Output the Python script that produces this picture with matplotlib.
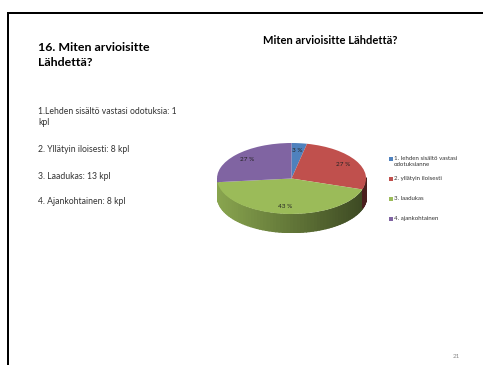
#!/usr/bin/python3

import numpy as np
import matplotlib
matplotlib.use('Agg')
import matplotlib.pyplot as plt
from matplotlib.patches import Rectangle
from matplotlib.colors import to_rgb

W, H = 483, 365
FONT = 'Lato'

categories = ['1. lehden sisältö vastasi\nodotuksianne', '2. yllätyin iloisesti', '3. laadukas', '4. ajankohtainen']
values = [1, 8, 13, 8]
colours = ['#4f81bd', '#c0504d', '#9bbb59', '#8064a2']
body_lines = ['1.Lehden sisältö vastasi odotuksia: 1\nkpl', '2. Yllätyin iloisesti: 8 kpl',
              '3. Laadukas: 13 kpl', '4. Ajankohtainen: 8 kpl']
body_y = [107.5, 145, 172, 197.5]

fig = plt.figure(figsize=(W / 100, H / 100), dpi=100)

# page overlay in pixel coordinates
page = fig.add_axes([0, 0, 1, 1])
page.set_xlim(0, W)
page.set_ylim(H, 0)
page.axis('off')
page.add_patch(Rectangle((7, 12), W - 7, 2, color='black', lw=0))
page.add_patch(Rectangle((7, 12), 2, H - 12, color='black', lw=0))

page.text(38, 47.5, '16. Miten arvioisitte', fontsize=8.9, fontweight='bold', family=FONT, va='center')
page.text(38, 63, 'Lähdettä?', fontsize=8.9, fontweight='bold', family=FONT, va='center')
page.text(330, 40, 'Miten arvioisitte Lähdettä?', fontsize=8, fontweight='bold', family=FONT,
          ha='center', va='center')
for txt, y in zip(body_lines, body_y):
    page.text(38, y, txt, fontsize=6.2, family=FONT, va='top', color='#333333', linespacing=1.15)
page.text(456, 356, '21', fontsize=4.5, family=FONT, color='#888888', ha='center', va='center')

# legend
for i, (cat, col) in enumerate(zip(categories, colours)):
    y = 158.5 + i * 20
    page.add_patch(Rectangle((389, y - 2), 4, 4, color=col, lw=0))
    page.text(394, y - 2.6, cat, fontsize=4.4, family=FONT, va='top', color='#333333', linespacing=1.35)

# pie axes: top face 217..366 x 143..214, extruded down to 232
rx, ry = 74.5, 35.5
depth = 18 / ry
ax = fig.add_axes([217 / W, 1 - 232 / H, 149 / W, 89 / H])


def pct(p):
    return '%d %%' % round(p)


# side wall, front half only, shaded left to right
# drawn last slice first so the green wall covers the sliver of purple at the left edge
shares = np.cumsum([0] + values) / sum(values)
for i, col in reversed(list(enumerate(colours))):
    a0 = 90 - 360 * shares[i]
    a1 = 90 - 360 * shares[i + 1]
    th = np.linspace(a0, a1, 60)
    for t0, t1 in zip(th[:-1], th[1:]):
        # keep only the lower half of the ellipse
        s0, s1 = np.sin(np.radians([t0, t1]))
        if s0 > 0 and s1 > 0:
            continue
        x = np.cos(np.radians([t0, t1]))
        y = np.sin(np.radians([t0, t1]))
        mid = (x.mean() + 1) / 2
        shade = 0.88 - 0.50 * mid
        c = tuple(v * shade for v in to_rgb(col))
        ax.fill_between(x, y, y - depth, facecolor=c, edgecolor=c, lw=1.0)

wedges, texts, autotexts = ax.pie(values, colors=colours, startangle=90, counterclock=False,
                                  radius=1, center=(0, 0), autopct=pct, pctdistance=0.8,
                                  textprops={'fontsize': 4.6, 'family': FONT, 'color': '#222222'},
                                  frame=True)
ax.set_aspect('auto')
ax.set_xlim(-1, 1)
ax.set_ylim(-1 - depth, 1)
ax.axis('off')

fig.savefig('out.png', dpi=100)
